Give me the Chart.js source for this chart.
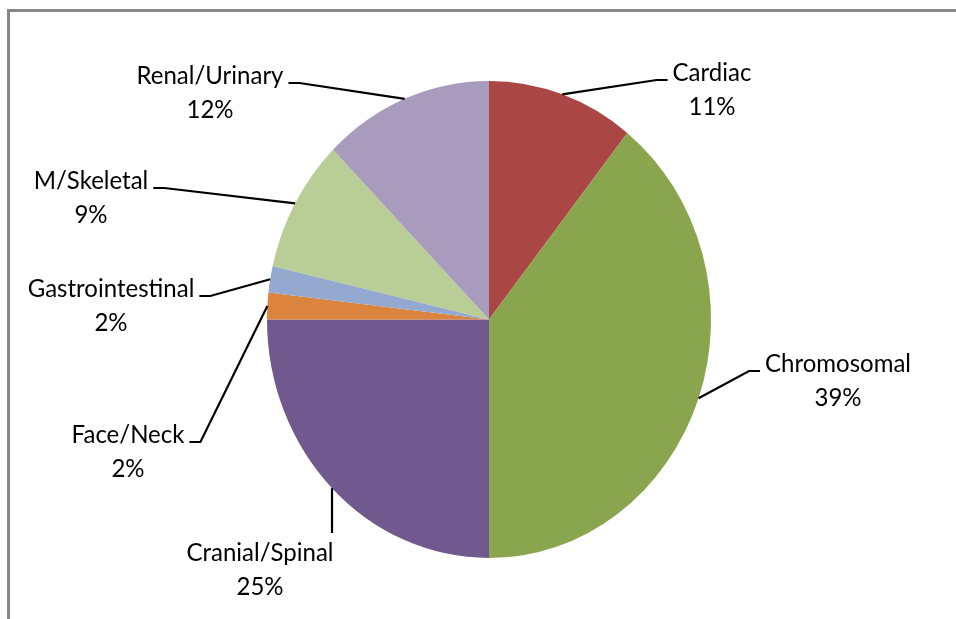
<!DOCTYPE html>
<html>
<head>
<meta charset="utf-8">
<script src="https://cdn.jsdelivr.net/npm/chart.js@4"></script>
<style>
html, body { margin: 0; padding: 0; background: #fff; overflow: hidden; }
#wrap { position: relative; width: 956px; height: 619px; overflow: hidden; }
#frame { position: absolute; left: 7px; top: 9px; width: 1000px; height: 700px;
         border-top: 3px solid #878787; border-left: 3px solid #878787; }
canvas { position: absolute; left: 0; top: 0; }
</style>
</head>
<body>
<div id="wrap">
  <div id="frame"></div>
  <canvas id="pie" width="956" height="619"></canvas>
</div>
<script>
// categories, clockwise from 12 o'clock
var categories = ['Cardiac', 'Chromosomal', 'Cranial/Spinal', 'Face/Neck', 'Gastrointestinal', 'M/Skeletal', 'Renal/Urinary'];
var shares = [10.7, 39.3, 25.0, 1.8, 1.8, 9.0, 12.4];
var colors = ['#AA4643', '#89A54E', '#71588F', '#DB843D', '#93A9CF', '#B9CD96', '#A99BBD'];

// where each label's first line is centred
var labelPos = [[712, 73], [838, 364], [260, 553], [128, 435], [111, 289], [91, 181], [210, 76]];

var squash = 238.5 / 222; // the original pie (and its text) is a bit taller than wide
var total = shares.reduce(function (a, b) { return a + b; }, 0);

function stretchedText(c, txt, x, y) {
    c.save();
    c.translate(x, y);
    c.scale(1, squash);
    c.fillText(txt, 0, 0);
    c.restore();
}

var pieLabels = {
    id: 'pieLabels',
    beforeDatasetsDraw: function (chart) {
        var a = chart.getDatasetMeta(0).data[0];
        var c = chart.ctx;
        c.save();
        c.translate(a.x, a.y);
        c.scale(1, squash);
        c.translate(-a.x, -a.y);
    },
    afterDatasetsDraw: function (chart) {
        var c = chart.ctx;
        c.restore();
        var arcs = chart.getDatasetMeta(0).data;
        c.save();
        c.font = '24px Lato';
        c.textAlign = 'center';
        c.textBaseline = 'middle';
        c.strokeStyle = '#000';
        c.fillStyle = '#000';
        c.lineWidth = 2.2;
        arcs.forEach(function (arc, i) {
            var mid = (arc.startAngle + arc.endAngle) / 2;
            var ex = arc.x + arc.outerRadius * Math.cos(mid);
            var ey = arc.y + arc.outerRadius * squash * Math.sin(mid);
            var p = labelPos[i];
            var w = c.measureText(categories[i]).width;
            var left = p[0] - w / 2, right = p[0] + w / 2;
            c.beginPath();
            c.moveTo(ex, ey);
            if (ex > left && ex < right) {
                c.lineTo(ex, p[1] - 20);
            } else if (ex < left) {
                c.lineTo(left - 16, p[1] + 7);
                c.lineTo(left - 5, p[1] + 7);
            } else {
                c.lineTo(right + 16, p[1] + 7);
                c.lineTo(right + 5, p[1] + 7);
            }
            c.stroke();
            stretchedText(c, categories[i], p[0], p[1]);
            stretchedText(c, Math.round(shares[i] / total * 100) + '%', p[0], p[1] + 34);
        });
        c.restore();
    }
};

var ctx = document.getElementById('pie').getContext('2d');
var chart = new Chart(ctx, {
    type: 'pie',
    data: {
        labels: categories,
        datasets: [{
            data: shares,
            backgroundColor: colors,
            borderWidth: 0,
            hoverOffset: 0
        }]
    },
    options: {
        responsive: false,
        animation: false,
        layout: { padding: { left: 267, right: 245, top: 97.5, bottom: 77.5 } },
        plugins: {
            legend: { display: false },
            tooltip: { enabled: false }
        }
    },
    plugins: [pieLabels]
});
</script>
</body>
</html>
